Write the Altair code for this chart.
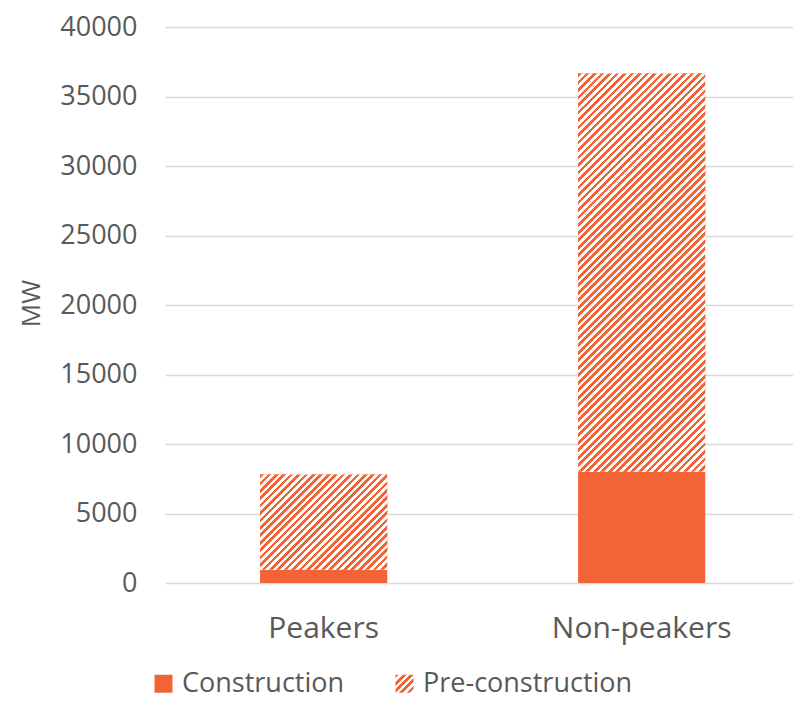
import json
import math
import altair as alt
import pandas as pd

# ---- data ----
categories = ["Peakers", "Non-peakers"]
construction = [950, 8000]
pre_construction = [6850, 28650]
series = ["Construction", "Pre-construction"]
y_ticks = [0, 5000, 10000, 15000, 20000, 25000, 30000, 35000, 40000]

# ---- styling ----
ORANGE = "#F26336"
WHITE = "#FFFFFF"
TEXT = "#595959"
FONT = "Open Sans"
TOP = 19
PLOT_W, PLOT_H = 628, 556
Y_MAX = 40000
PAD_INNER, PAD_OUTER, ALIGN = 0.6, 0.2874, 0.52
STEP = PLOT_W / (len(categories) - PAD_INNER + 2 * PAD_OUTER)
BAR_W = STEP * (1 - PAD_INNER)
PERIOD = 5.3  # stripe period, perpendicular to the stripes, in px


def hatch(w, h):
    """Linear gradient with hard stops that draws 45-degree '/' stripes in a w x h box."""
    c = (1 / h + 1 / w) / (1 / h ** 2 + 1 / w ** 2)
    x2, y2 = c / h, c / w
    n = max(1, round((w + h) / math.sqrt(2) / PERIOD))
    stops = []
    for k in range(n):
        a, b, e = k / n, (k + 0.5) / n, (k + 1) / n
        stops += [
            {"offset": round(a, 5), "color": ORANGE},
            {"offset": round(b, 5), "color": ORANGE},
            {"offset": round(b, 5), "color": WHITE},
            {"offset": round(e, 5), "color": WHITE},
        ]
    return {"gradient": "linear", "x1": 0, "y1": 0,
            "x2": round(x2, 5), "y2": round(y2, 5), "stops": stops}


rows = []
for cat, c_val, p_val in zip(categories, construction, pre_construction):
    rows.append({"category": cat, "type": series[0], "lo": 0, "hi": c_val})
    rows.append({"category": cat, "type": series[1], "lo": c_val, "hi": c_val + p_val})
df = pd.DataFrame(rows)

legend_grad = hatch(18, 18)

x_enc = alt.X(
    "category:N", sort=categories,
    scale=alt.Scale(paddingInner=PAD_INNER, paddingOuter=PAD_OUTER, align=ALIGN),
    axis=alt.Axis(title=None, domain=False, ticks=False, grid=False, labelAngle=0,
                  labelPadding=54, labelBaseline="alphabetic", labelFont=FONT,
                  labelFontSize=30, labelColor=TEXT),
)
y_enc = alt.Y(
    "lo:Q", scale=alt.Scale(domain=[0, Y_MAX], nice=False),
    axis=alt.Axis(values=y_ticks, format="d", title="MW", domain=False, ticks=False,
                  tickSize=0, grid=True, gridColor="#D9D9D9", gridWidth=1.5,
                  labelPadding=28, labelFont=FONT, labelFontSize=27, labelColor=TEXT,
                  labelBaseline="middle",
                  titleFont=FONT, titleFontSize=26, titleFontWeight="normal",
                  titleColor=TEXT, titleAngle=270, titleAlign="center",
                  titleBaseline="middle", titleX=-134, titleY=303 - 8 - TOP),
)

base = alt.Chart(df).mark_bar().encode(
    x=x_enc,
    y=y_enc,
    y2="hi:Q",
    color=alt.Color(
        "type:N",
        scale=alt.Scale(domain=series, range=[ORANGE, {"expr": json.dumps(legend_grad)}]),
        legend=alt.Legend(orient="none", legendX=-15, legendY=643, direction="horizontal",
                          title=None, symbolType="square", symbolSize=324,
                          symbolStrokeWidth=0, labelFont=FONT, labelFontSize=27,
                          labelColor=TEXT, labelOffset=5, labelLimit=400,
                          columnPadding=46, padding=0),
    ),
)

layers = [base]
for cat, c_val, p_val in zip(categories, construction, pre_construction):
    h_px = p_val * PLOT_H / Y_MAX
    layers.append(
        alt.Chart(df)
        .transform_filter((alt.datum.category == cat) & (alt.datum.type == series[1]))
        .mark_bar(fill=hatch(BAR_W, h_px))
        .encode(x=alt.X("category:N", sort=categories), y="lo:Q", y2="hi:Q")
    )

chart = (
    alt.layer(*layers)
    .properties(width=PLOT_W, height=PLOT_H,
                autosize=alt.AutoSizeParams(type="none"),
                padding={"left": 157, "top": TOP, "right": 0,
                         "bottom": 692 - TOP - PLOT_H})
    .configure_view(stroke=None)
)

chart.save("out.html", embed_options={"renderer": "svg", "actions": False})
